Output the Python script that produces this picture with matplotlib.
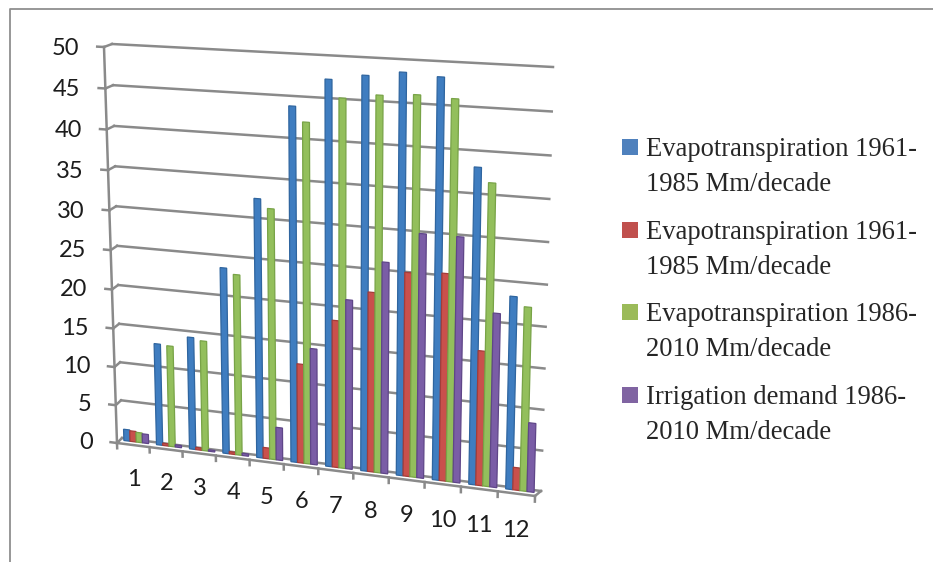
import numpy as np
import matplotlib
matplotlib.use("Agg")
import matplotlib.pyplot as plt
from matplotlib.patches import Rectangle
from matplotlib.transforms import Transform

months = [str(m) for m in range(1, 13)]
et_1961 = [1.5, 13.2, 14.5, 23.7, 32.6, 44.0, 47.4, 48.1, 48.7, 48.4, 38.3, 23.5]
irr_1961 = [1.4, 0.3, 0.3, 0.3, 1.4, 12.6, 18.5, 22.4, 25.2, 25.5, 16.6, 2.8]
et_1986 = [1.3, 13.1, 14.2, 23.0, 31.5, 42.2, 45.3, 45.9, 46.2, 46.0, 36.6, 22.4]
irr_1986 = [1.2, 0.3, 0.2, 0.3, 4.2, 14.7, 21.2, 26.2, 30.0, 30.0, 21.3, 8.5]
series = [et_1961, irr_1961, et_1986, irr_1986]
labels = ["Evapotranspiration 1961-\n1985 Mm/decade",
          "Evapotranspiration 1961-\n1985 Mm/decade",
          "Evapotranspiration 1986-\n2010 Mm/decade",
          "Irrigation demand 1986-\n2010 Mm/decade"]
colors = ["#3f7dc0", "#c9504c", "#93bf5c", "#7a5da6"]
edges = ["#2f659f", "#a33c39", "#78a347", "#5f4688"]
legend_colors = ["#4f81bd", "#c0504d", "#9bbb59", "#8064a2"]
yticks = list(range(0, 51, 5))


class Perspective(Transform):
    """Projective map of the chart's (month, value) plane onto the picture."""
    input_dims = output_dims = 2
    is_separable = False
    has_inverse = False

    def __init__(self, src, dst):
        super().__init__()
        A, b = [], []
        for (x, y), (u, v) in zip(src, dst):
            A.append([x, y, 1, 0, 0, 0, -u * x, -u * y]); b.append(u)
            A.append([0, 0, 0, x, y, 1, -v * x, -v * y]); b.append(v)
        self.m = np.append(np.linalg.solve(np.array(A, float), np.array(b, float)), 1).reshape(3, 3)

    def transform_non_affine(self, values):
        p = np.column_stack([values, np.ones(len(values))]) @ self.m.T
        return p[:, :2] / p[:, 2:]


XMAX, YMAX = 12, 50
domain = [(0, 0), (XMAX, 0), (XMAX, YMAX), (0, YMAX)]
back_q = np.array([(122, 438), (541, 491), (553, 67), (112, 44)], float)
front_q = np.array([(117, 443), (535, 496), (545, 71), (104, 47)], float)
bar_q = back_q + 0.4 * (front_q - back_q)

fig = plt.figure(figsize=(9.33, 5.62), dpi=100, facecolor="white")
ax = fig.add_axes([0, 0, 1, 1])
ax.set_xlim(0, 933)
ax.set_ylim(562, 0)
ax.set_autoscale_on(False)
ax.axis("off")

Hb = Perspective(domain, back_q)
Hf = Perspective(domain, front_q)
Hm = Perspective(domain, bar_q)
tb, tf, tm = Hb + ax.transData, Hf + ax.transData, Hm + ax.transData

grid = "#8a8a8a"
lw = 1.8
ax.plot([9.5, 9.5, 933], [562, 8.5, 8.5], color="#8f8f8f", lw=1.3, zorder=1)

for v in yticks:
    ax.plot([0, XMAX], [v, v], color=grid, lw=lw, transform=tb, zorder=2)
    a = Hf.transform([[0, v]])[0]
    b = Hb.transform([[0, v]])[0]
    ax.plot([a[0], b[0]], [a[1], b[1]], color=grid, lw=lw, zorder=2)
    ax.plot([-0.2, 0], [v, v], color=grid, lw=lw, transform=tf, zorder=2)
    ax.text(-0.75, v - 0.35, str(v), transform=tf, ha="right", va="center",
            family="Lato", fontsize=17, color="#1c1c1c")
ax.plot([0, 0], [0, YMAX], color=grid, lw=lw, transform=tf, zorder=2)
ax.plot([0, XMAX], [0, 0], color=grid, lw=lw, transform=tf, zorder=2)
a = Hf.transform([[XMAX, 0]])[0]
b = Hb.transform([[XMAX, 0]])[0]
ax.plot([a[0], b[0]], [a[1], b[1]], color=grid, lw=lw, zorder=2)
for i in range(XMAX + 1):
    ax.plot([i, i], [0, -0.7], color=grid, lw=lw, transform=tf, zorder=2)
for i, m in enumerate(months):
    ax.text(i + 0.5, -4.6, m, transform=tf, ha="center", va="center",
            family="Lato", fontsize=17, color="#1c1c1c")

width = 0.19
x = np.arange(XMAX) + 0.5
for k, (vals, lab, c, e) in enumerate(zip(series, labels, colors, edges)):
    ax.bar(x + (k - 1.5) * width, vals, width, color=c, edgecolor=e, linewidth=0.9,
           label=lab, transform=tm, zorder=3 + k)

for i, (lab, c) in enumerate(zip(labels, legend_colors)):
    y0 = 147 + 82.7 * i
    ax.add_patch(Rectangle((622, y0 - 8), 16, 16, facecolor=c, edgecolor="none", zorder=5))
    ax.text(646, y0 - 10, lab, family="Liberation Serif", fontsize=19.2, color="#262626",
            ha="left", va="top", linespacing=1.52)

fig.savefig("out.png", dpi=100)
